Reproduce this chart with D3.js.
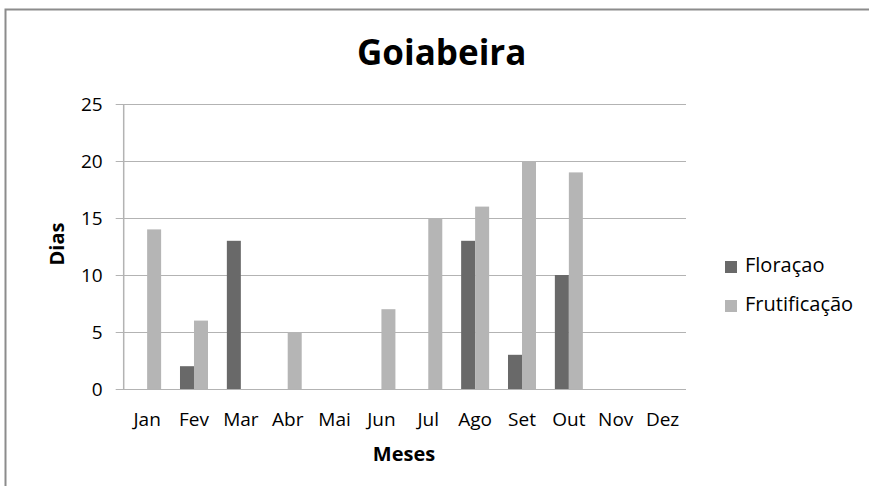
<!DOCTYPE html>
<html><head><meta charset="utf-8">
<script src="https://cdn.jsdelivr.net/npm/d3@7"></script>
<style>body{margin:0;background:#fff}svg{display:block}</style>
</head><body>
<svg id="c" width="869" height="486"></svg>
<script>
const months = ["Jan","Fev","Mar","Abr","Mai","Jun","Jul","Ago","Set","Out","Nov","Dez"];
const floracao = [0,2,13,0,0,0,0,13,3,10,0,0];
const frutificacao = [14,6,0,5,0,7,15,16,20,19,0,0];
const seriesNames = ["Floraçao","Frutificação"];
const seriesColors = ["#696969","#b5b5b5"];
const yTicks = [0,5,10,15,20,25];

const svg = d3.select("#c");
const font = "'Open Sans', sans-serif";
// frame
svg.append("rect").attr("x",5.5).attr("y",9.5).attr("width",900).attr("height",600)
  .attr("fill","#fff").attr("stroke","#8c8c8c").attr("stroke-width",2);

const L=123.7, R=686, T=104, B=389;
const x = d3.scaleBand().domain(months).range([L,R]);
const y = d3.scaleLinear().domain([0,25]).range([B,T]);
const barW = 14;

// grid
svg.append("g").selectAll("line").data(yTicks).join("line")
  .attr("x1",L-8).attr("x2",R).attr("y1",d=>Math.round(y(d))+0.5).attr("y2",d=>Math.round(y(d))+0.5)
  .attr("stroke","#b3b3b3").attr("stroke-width",1);
svg.append("line").attr("x1",L).attr("x2",L).attr("y1",T).attr("y2",B)
  .attr("stroke","#b3b3b3").attr("stroke-width",1.5);

const yAxis = d3.axisLeft(y).tickValues(yTicks).tickSize(0).tickPadding(21);
const ga = svg.append("g").attr("transform",`translate(${L},0)`).call(yAxis);
ga.select(".domain").remove();
ga.selectAll("text").attr("font-family",font).attr("font-size",19).attr("fill","#000");

const xAxis = d3.axisBottom(x).tickSize(0).tickPadding(20);
const gx = svg.append("g").attr("transform",`translate(0,${B})`).call(xAxis);
gx.select(".domain").remove();
gx.selectAll("text").attr("font-family",font).attr("font-size",19).attr("fill","#000")
  .attr("dy",null).attr("y",37);

const data = [floracao, frutificacao];
data.forEach((vals,si)=>{
  svg.append("g").selectAll("rect").data(vals.map((v,i)=>({m:months[i],v}))).join("rect")
    .attr("x",d=>x(d.m)+x.bandwidth()/2 + (si-1)*barW)
    .attr("width",barW)
    .attr("y",d=>y(d.v)).attr("height",d=>B-y(d.v))
    .attr("fill",seriesColors[si]);
});

svg.append("text").attr("x",357).attr("y",65).attr("text-anchor","start")
  .attr("font-family",font).attr("font-weight","bold").attr("font-size",35).text("Goiabeira");
svg.append("text").attr("x",404).attr("y",461).attr("text-anchor","middle")
  .attr("font-family",font).attr("font-weight","bold").attr("font-size",20).text("Meses");
svg.append("text").attr("transform","translate(64,244) rotate(-90)").attr("text-anchor","middle")
  .attr("font-family",font).attr("font-weight","bold").attr("font-size",20).text("Dias");

const lg = svg.append("g");
seriesNames.forEach((n,i)=>{
  lg.append("rect").attr("x",725).attr("y",261+i*39).attr("width",12).attr("height",12).attr("fill",seriesColors[i]);
  lg.append("text").attr("x",745).attr("y",272+i*39).attr("font-family",font).attr("font-size",20).text(n);
});
</script>
</body></html>
